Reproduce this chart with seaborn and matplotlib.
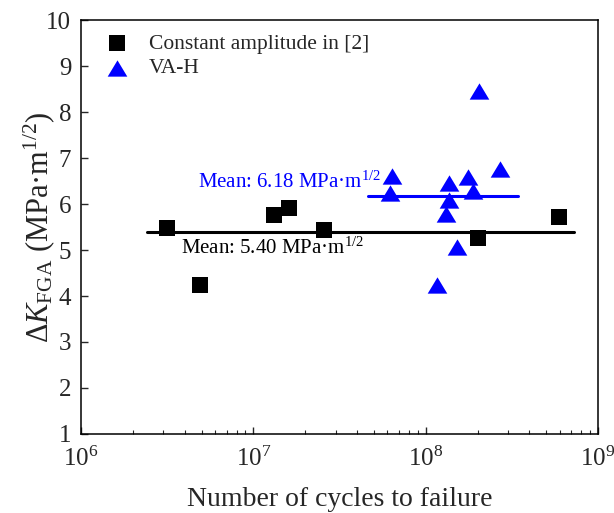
import matplotlib
matplotlib.use("Agg")
import matplotlib.pyplot as plt
import seaborn as sns
from matplotlib.ticker import LogLocator, NullFormatter, FixedLocator

# Constant amplitude data from reference [2]
ca_cycles = [3.14e6, 4.9e6, 1.32e7, 1.61e7, 2.58e7, 2.0e8, 5.9e8]
ca_dk = [5.47, 4.24, 5.76, 5.91, 5.43, 5.27, 5.72]

# Variable amplitude (VA-H) data
va_cycles = [6.35e7, 6.2e7, 1.37e8, 1.37e8, 1.31e8, 1.75e8, 1.87e8, 2.70e8, 1.51e8, 1.17e8, 2.05e8]
va_dk = [6.61, 6.25, 6.45, 6.09, 5.78, 6.59, 6.28, 6.76, 5.07, 4.24, 8.45]

# Mean values and the cycle ranges their lines span
ca_mean = 5.40
va_mean = 6.18
ca_mean_span = [2.4e6, 7.26e8]
va_mean_span = [4.65e7, 3.42e8]

y_ticks = [1, 2, 3, 4, 5, 6, 7, 8, 9, 10]

sns.set_style("ticks")
plt.rcParams["font.family"] = ["Liberation Serif", "DejaVu Serif"]
plt.rcParams["mathtext.fontset"] = "custom"
plt.rcParams["mathtext.rm"] = "Liberation Serif"
plt.rcParams["mathtext.it"] = "Liberation Serif:italic"
plt.rcParams["mathtext.bf"] = "Liberation Serif:bold"

BLUE = "#0000ff"
# slightly squat upward triangle
tri = [(-1, -0.83), (1, -0.83), (0, 0.83)]

fig = plt.figure(figsize=(6.14, 5.13), dpi=100)
ax = fig.add_axes([0.132, 0.154, 0.842, 0.807])
ax.set_xscale("log")

sns.scatterplot(x=ca_cycles, y=ca_dk, color="black", marker="s", s=120,
                linewidth=0, ax=ax, zorder=3, label="Constant amplitude in [2]")
sns.scatterplot(x=va_cycles, y=va_dk, color=BLUE, marker=tri, s=200,
                linewidth=0, ax=ax, zorder=3, label="VA-H")

sns.lineplot(x=ca_mean_span, y=[ca_mean, ca_mean], color="black", lw=2.2, ax=ax, zorder=2)
sns.lineplot(x=va_mean_span, y=[va_mean, va_mean], color=BLUE, lw=2.2, ax=ax, zorder=2)

ax.text(4.77e6, va_mean + 0.3, f"Mean: {va_mean:.2f} MPa·m$^{{1/2}}$", color=BLUE,
        fontsize=15, va="center", ha="left")
ax.text(3.8e6, ca_mean - 0.36, f"Mean: {ca_mean:.2f} MPa·m$^{{1/2}}$", color="black",
        fontsize=15, va="center", ha="left")

ax.set_xlim(1e6, 1e9)
ax.set_ylim(1, 10)
ax.yaxis.set_major_locator(FixedLocator(y_ticks))
ax.xaxis.set_major_locator(LogLocator(base=10, numticks=10))
ax.xaxis.set_minor_locator(LogLocator(base=10, subs=range(2, 10), numticks=20))
ax.xaxis.set_minor_formatter(NullFormatter())

ax.tick_params(axis="both", which="major", direction="in", length=5, width=1.0,
               labelsize=18, top=False, right=False)
ax.tick_params(axis="y", which="major", pad=7)
ax.tick_params(axis="x", which="major", pad=9)
ax.tick_params(axis="x", which="minor", direction="in", length=3, width=0.8, top=False)
for sp in ax.spines.values():
    sp.set_linewidth(1.1)
    sp.set_color("black")

ax.set_xlabel("Number of cycles to failure", fontsize=20, labelpad=12)
ax.set_ylabel(r"$\Delta K_{\rm FGA}$ (MPa·m$^{1/2}$)", fontsize=22, labelpad=-8)

handles, labels = ax.get_legend_handles_labels()
ax.legend(handles=handles, labels=labels, loc="upper left", frameon=False,
          fontsize=15.5, handletextpad=0.5, borderaxespad=0.25, labelspacing=0.2)

fig.savefig("out.png", dpi=100)
